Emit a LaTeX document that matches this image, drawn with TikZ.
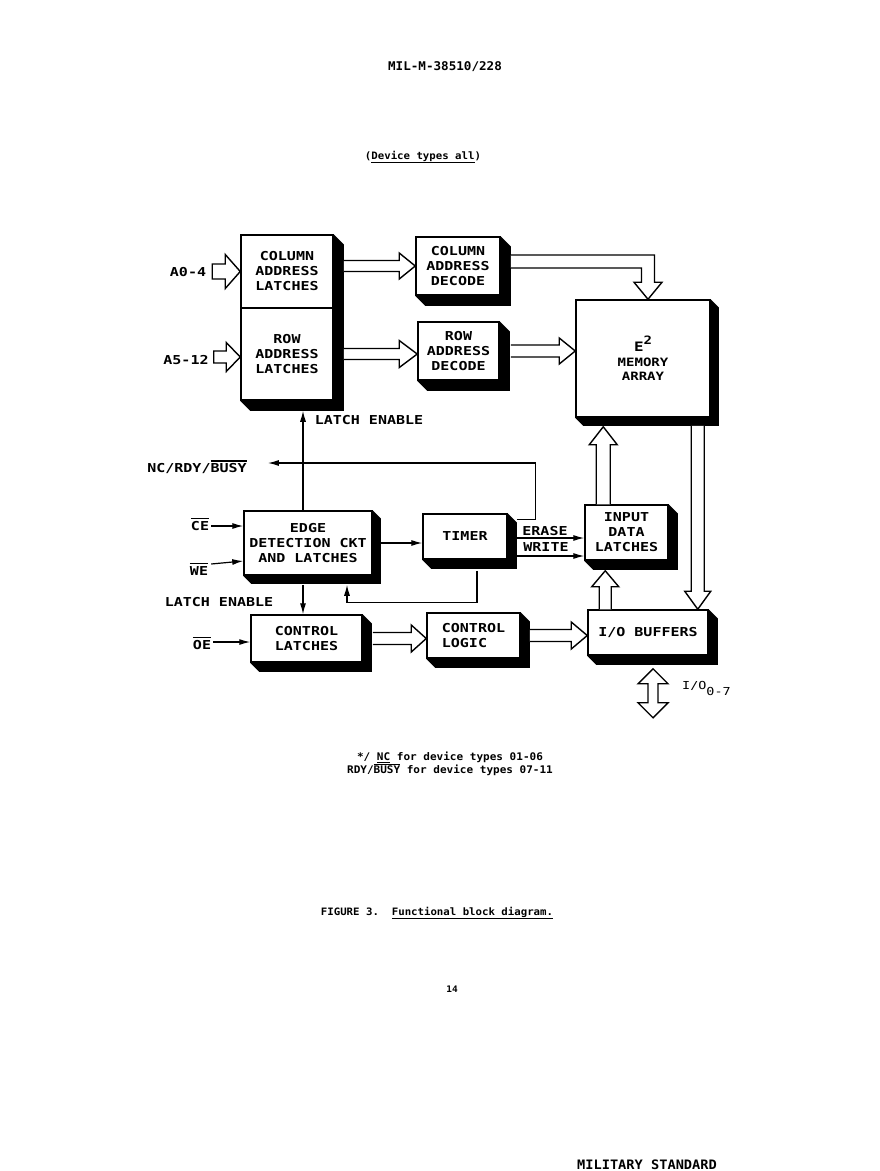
\documentclass[tikz,border=0pt]{standalone}
\usepackage{fontspec}
\setmainfont{DejaVu Sans}
\newfontfamily\lf[FakeStretch=1.22]{DejaVu Sans Mono}
\newfontfamily\hf[FakeStretch=1.05]{DejaVu Sans Mono}
\usetikzlibrary{arrows.meta,calc}

\newcommand\ovl[1]{\vbox{\hrule height 1.3pt\kern 1.8pt\hbox{#1}}}
\newcommand\ovlt[1]{\vbox{\hrule height 0.8pt\kern 1.2pt\hbox{#1}}}

% right-pointing hollow arrow: #1 start, #2 tip, #3 shaft half, #4 head half, #5 head length
\newcommand\fatarrR[5]{\draw[fat] let \p1=(#1), \p2=(#2) in
  (\x1,\y2+#3pt) -- (\x2-#5pt,\y2+#3pt) -- (\x2-#5pt,\y2+#4pt) -- (\x2,\y2)
  -- (\x2-#5pt,\y2-#4pt) -- (\x2-#5pt,\y2-#3pt) -- (\x1,\y2-#3pt);}
\newcommand\fatarrRc[5]{\draw[fat] let \p1=(#1), \p2=(#2) in
  (\x1,\y2+#3pt) -- (\x2-#5pt,\y2+#3pt) -- (\x2-#5pt,\y2+#4pt) -- (\x2,\y2)
  -- (\x2-#5pt,\y2-#4pt) -- (\x2-#5pt,\y2-#3pt) -- (\x1,\y2-#3pt) -- cycle;}
\newcommand\fatarrU[5]{\draw[fat] let \p1=(#1), \p2=(#2) in
  (\x2-#3pt,\y1) -- (\x2-#3pt,\y2-#5pt) -- (\x2-#4pt,\y2-#5pt) -- (\x2,\y2)
  -- (\x2+#4pt,\y2-#5pt) -- (\x2+#3pt,\y2-#5pt) -- (\x2+#3pt,\y1);}
\newcommand\fatarrD[5]{\draw[fat] let \p1=(#1), \p2=(#2) in
  (\x2-#3pt,\y1) -- (\x2-#3pt,\y2+#5pt) -- (\x2-#4pt,\y2+#5pt) -- (\x2,\y2)
  -- (\x2+#4pt,\y2+#5pt) -- (\x2+#3pt,\y2+#5pt) -- (\x2+#3pt,\y1);}
\newcommand\boxshadow[2]{\fill (#1.north east) -- ++(#2,#2) -- ($(#1.south east)+(#2,#2)$)
  -- ($(#1.south west)+(#2,#2)$) -- (#1.south west) -- (#1.south east) -- cycle;}

\tikzset{
  blk/.style={draw, fill=white, line width=1.5pt, inner sep=0pt, align=center,
    font=\lf\bfseries\fontsize{12.3}{15}\selectfont},
  lab/.style={inner sep=0pt, font=\lf\bfseries\fontsize{12.3}{15}\selectfont},
  ft/.style={inner sep=0pt, font=\hf\bfseries\fontsize{10.5}{13}\selectfont, align=center},
  thinarr/.style={line width=1.2pt, -{Latex[length=11pt,width=6pt]}},
  fat/.style={draw, fill=white, line width=1.4pt, line join=miter},
}

\begin{document}
\begin{tikzpicture}[x=1pt,y=-1pt]
\useasboundingbox[fill=white] (0,0) rectangle (880,1171);

% header / footer texts
\node[ft, font=\hf\bfseries\fontsize{12}{14}\selectfont] (hdr) at (445,66.5) {MIL-M-38510/228};
\node[ft, font=\hf\bfseries\fontsize{10.2}{13}\selectfont] (dev) at (423,157) {(\underline{Device types all})};

% blocks
\node[blk, minimum width=92pt, minimum height=73pt] (colL) at (287,271.5) {COLUMN\\ADDRESS\\LATCHES};
\node[blk, minimum width=92pt, minimum height=92pt] (rowL) at (287,354) {ROW\\ADDRESS\\LATCHES};
\node[blk, minimum width=84pt, minimum height=58pt] (coldec) at (458,266) {COLUMN\\ADDRESS\\DECODE};
\node[blk, minimum width=81pt, minimum height=58pt] (rowdec) at (458.5,351) {ROW\\ADDRESS\\DECODE};
\node[blk, minimum width=134pt, minimum height=117pt, font=\lf\bfseries\fontsize{11.5}{14}\selectfont] (mem) at (643,358.5)
  {{\fontsize{13}{14}\selectfont E}\raisebox{7pt}{2}\\[1pt]MEMORY\\ARRAY};
\node[blk, minimum width=128pt, minimum height=64pt] (edge) at (308,543) {EDGE\\DETECTION CKT\\AND LATCHES};
\node[blk, minimum width=84pt, minimum height=45pt] (timer) at (465,536.5) {TIMER};
\node[blk, minimum width=83pt, minimum height=55pt] (idl) at (626.5,532.5) {INPUT\\DATA\\LATCHES};
\node[blk, minimum width=111pt, minimum height=47pt] (ctlL) at (306.5,638.5) {CONTROL\\LATCHES};
\node[blk, minimum width=93pt, minimum height=45pt, align=left] (ctlG) at (473.5,635.5) {CONTROL\\LOGIC};
\node[blk, minimum width=120pt, minimum height=45pt] (iob) at (648,632.5) {I/O BUFFERS};

% shadows
\fill (colL.north east) -- ++(10,10) -- ($(rowL.south east)+(10,10)$)
  -- ($(rowL.south west)+(10,10)$) -- (rowL.south west) -- (rowL.south east) -- cycle;
\boxshadow{coldec}{10}
\boxshadow{rowdec}{10}
\boxshadow{mem}{8}
\boxshadow{edge}{8}
\boxshadow{timer}{9}
\boxshadow{idl}{9}
\boxshadow{ctlL}{9}
\boxshadow{ctlG}{9}
\boxshadow{iob}{9}

% labels
\node[lab] (a04) at (188,272) {A0-4};
\node[lab] (a512) at (186,360) {A5-12};
\node[lab] (le1) at (369,420) {LATCH ENABLE};
\node[lab] (ncl) at (197,467) {NC/RDY/\ovl{BUSY}};
\node[lab] (ce) at (200,524) {\ovl{CE}};
\node[lab] (we) at (199,569) {\ovl{WE}};
\node[lab] (le2) at (219,602.5) {LATCH ENABLE};
\node[lab] (oe) at (202,643) {\ovl{OE}};
\node[lab] (er) at (545,531.5) {ERASE};
\node[lab] (wr) at (546,547) {WRITE};
\node[lab, anchor=west, font=\lf\fontsize{11}{13}\selectfont] (io) at (682,688) {I/O\raisebox{-6pt}{0-7}};

% hollow arrows
\fatarrRc{$(a04.east)+(6,-2)$}{colL.west}{7.5}{17}{15}
\fatarrRc{$(a512.east)+(5,0)$}{$(rowL.west)+(0,3)$}{6}{14.5}{14}
\fatarrR{$(colL.east)+(10,0)$}{coldec.west}{5.5}{13}{16}
\fatarrR{$(rowL.east)+(10,0)$}{rowL.center -| rowdec.west}{5.5}{13.5}{18}
\draw[fat] let \p1=($(coldec.east)+(10,0)$), \p2=($(mem.north)+(5,0)$) in
  (\x1,\y1+11pt) -- (\x2+6.5pt,\y1+11pt) -- (\x2+6.5pt,\y2+17pt) -- (\x2+14pt,\y2+17pt)
  -- (\x2,\y2) -- (\x2-14pt,\y2+17pt) -- (\x2-6.5pt,\y2+17pt) -- (\x2-6.5pt,\y1-2pt) -- (\x1,\y1-2pt);
\fatarrR{$(rowdec.east)+(11,0)$}{rowdec.center -| mem.west}{6}{13}{16}
\coordinate (m2) at ($(mem.south east)+(-13,8)$);
\fatarrD{m2}{m2 |- iob.north}{6.5}{13}{18}
\coordinate (m3) at ($(mem.south)+(0,9)$);
\coordinate (i1) at ($(idl.north west)+(19,0)$);
\fatarrU{i1}{i1 |- m3}{7}{14}{18}
\coordinate (i2) at ($(idl.south)+(0,10)$);
\coordinate (b1) at ($(iob.north west)+(18,0)$);
\fatarrU{b1}{b1 |- i2}{6}{13.5}{16}
\fatarrR{$(ctlL.east)+(10,0)$}{ctlL.center -| ctlG.west}{6}{13.5}{15}
\fatarrR{$(ctlG.east)+(9,0)$}{ctlG.center -| iob.west}{6}{13.5}{16}
\coordinate (d1) at ($(iob.south)+(5,13)$);
\coordinate (d2) at ($(d1)+(0,49)$);
\draw[fat] let \p1=(d1), \p2=(d2) in (\x1,\y1) -- (\x1+15pt,\y1-15pt) -- (\x1+5pt,\y1-15pt)
  -- (\x1+5pt,\y2+15pt) -- (\x1+15pt,\y2+15pt) -- (\x2,\y2) -- (\x1-15pt,\y2+15pt)
  -- (\x1-5pt,\y2+15pt) -- (\x1-5pt,\y1-15pt) -- (\x1-15pt,\y1-15pt) -- cycle;

% thin connectors
\coordinate (leA) at ($(edge.north)+(-5,0)$);
\coordinate (latB) at ($(rowL.south)+(0,10)$);
\draw[thinarr] (leA) -- (leA |- latB);
\coordinate (tnc) at ($(timer.north east)+(9,6)$);
\coordinate (ncE) at ($(ncl.east)+(21,-4)$);
\draw[thinarr] (tnc) -- ++(19,0) |- (ncE);
\coordinate (ceS) at ($(ce.east)+(2,2)$);
\draw[thinarr] (ceS) -- (ceS -| edge.west);
\coordinate (weS) at ($(we.east)+(3,-5)$);
\coordinate (weE) at ($(weS -| edge.west)+(0,-3)$);
\draw[thinarr] (weS) -- (weE);
\coordinate (etS) at ($(edge.east)+(8,0)$);
\draw[thinarr] (etS) -- (etS -| timer.west);
\coordinate (tfS) at ($(timer.south)+(12,11)$);
\coordinate (tfE) at ($(edge.south)+(39,9)$);
\draw[thinarr] (tfS) -- ++(0,32) -| (tfE);
\coordinate (ecS) at ($(edge.south)+(-5,9)$);
\draw[thinarr] (ecS) -- (ecS |- ctlL.north);
\coordinate (oeS) at ($(oe.east)+(2,-1)$);
\draw[thinarr] (oeS) -- (oeS -| ctlL.west);
\coordinate (erS) at ($(timer.east)+(9,1.5)$);
\draw[thinarr] (erS) -- (erS -| idl.west);
\coordinate (wrS) at ($(timer.east)+(9,19.5)$);
\draw[thinarr] (wrS) -- (wrS -| idl.west);

% notes
\node[ft, font=\hf\bfseries\fontsize{10.5}{13}\selectfont] (note) at (450,764)
  {*/ \underline{NC} for device types 01-06\\RDY/\ovlt{BUSY} for device types 07-11};
\node[ft, font=\hf\bfseries\fontsize{10.2}{13}\selectfont] (fig) at (437,913)
  {FIGURE 3.\ \ \underline{Functional block diagram.}};
\node[ft, font=\hf\bfseries\fontsize{9}{11}\selectfont] (pg) at (452,989) {14};
\node[ft, anchor=south, font=\hf\bfseries\fontsize{13}{13}\selectfont] (ms) at (647,1170) {MILITARY STANDARD};
\end{tikzpicture}
\end{document}
